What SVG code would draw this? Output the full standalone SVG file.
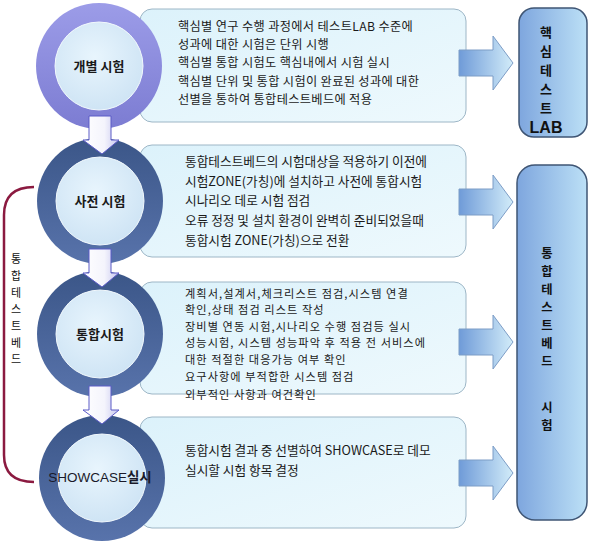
<svg xmlns="http://www.w3.org/2000/svg" width="591" height="543" viewBox="0 0 591 543">
<defs>
<linearGradient id="ring1" x1="0" y1="0" x2="0" y2="1"><stop offset="0" stop-color="#9c9ce8"/><stop offset="1" stop-color="#7c7cd2"/></linearGradient>
<linearGradient id="ring2" x1="0" y1="0" x2="0" y2="1"><stop offset="0" stop-color="#3b5688"/><stop offset="1" stop-color="#5873ab"/></linearGradient>
<radialGradient id="inner" cx="0.45" cy="0.4" r="0.65"><stop offset="0" stop-color="#e8f5fd"/><stop offset="1" stop-color="#cde3f4"/></radialGradient>
<linearGradient id="boxg" x1="0" y1="0" x2="1" y2="1"><stop offset="0" stop-color="#dcf2fb"/><stop offset="1" stop-color="#eef9fd"/></linearGradient>
<linearGradient id="rarrow" x1="0" y1="0" x2="1" y2="0"><stop offset="0" stop-color="#6f9bd8"/><stop offset="1" stop-color="#d2ecf9"/></linearGradient>
<linearGradient id="rbox" x1="0" y1="0" x2="1" y2="0"><stop offset="0" stop-color="#7ea6de"/><stop offset="1" stop-color="#bce0f6"/></linearGradient>
<linearGradient id="darrow" x1="0" y1="0" x2="1" y2="0"><stop offset="0" stop-color="#ffffff"/><stop offset="0.6" stop-color="#f4f4fc"/><stop offset="1" stop-color="#c4c4ee"/></linearGradient>
<path id="rarr" d="M0,-13 L34,-13 L34,-27 L54,0 L34,27 L34,13 L0,13 Z"/>
<path id="darr" d="M-11,0 L11,0 L11,24 L19,24 L2,38 L-17,24 L-11,24 Z"/>
</defs>
<style>
.box{fill:url(#boxg);stroke:#9db6c6;stroke-width:1}
.t{font-family:"Noto Sans CJK KR","Liberation Sans",sans-serif;font-size:12.7px;fill:#1a1a1a}
.t1{font-size:12.2px;letter-spacing:0.35px}
.t3{font-size:11.2px;letter-spacing:1.05px}
.ct{font-family:"Noto Sans CJK KR","Liberation Sans",sans-serif;font-size:13px;font-weight:bold;fill:#1a1a1a;text-anchor:middle}
.inner{fill:url(#inner);stroke:#f2f9fd;stroke-width:1}
.rb{fill:url(#rbox);stroke:#3f5574;stroke-width:1.5}
.rt{font-family:"Noto Sans CJK KR","Liberation Sans",sans-serif;font-size:12.3px;font-weight:bold;fill:#111;text-anchor:middle}
.lt{font-family:"Noto Sans CJK KR","Liberation Sans",sans-serif;font-size:11px;fill:#111;text-anchor:middle}
.ra{fill:url(#rarrow);stroke:#7d9dc6;stroke-width:1}
.da{fill:url(#darrow);stroke:#5a5ac6;stroke-width:1}
</style>
<rect width="591" height="543" fill="#ffffff"/>

<g id="box1"><rect class="box" x="140" y="9" width="326" height="113" rx="12"/>
<text class="t t1"><tspan x="178" y="31">핵심별 연구 수행 과정에서 테스트LAB 수준에</tspan><tspan x="178" y="49">성과에 대한 시험은 단위 시행</tspan><tspan x="178" y="67.3">핵심별 통합 시험도 핵심내에서 시험 실시</tspan><tspan x="178" y="85.6">핵심별 단위 및 통합 시험이 완료된 성과에 대한</tspan><tspan x="178" y="103.9">선별을 통하여 통합테스트베드에 적용</tspan></text></g>

<g id="box2"><rect class="box" x="140" y="145" width="326" height="112" rx="12"/>
<text class="t"><tspan x="185" y="166">통합테스트베드의 시험대상을 적용하기 이전에</tspan><tspan x="185" y="185.5">시험ZONE(가칭)에 설치하고 사전에 통합시험</tspan><tspan x="185" y="205">시나리오 데로 시험 점검</tspan><tspan x="185" y="224.5">오류 정정 및 설치 환경이 완벽히 준비되었을때</tspan><tspan x="185" y="244.5">통합시험 ZONE(가칭)으로 전환</tspan></text></g>

<g id="box3"><rect class="box" x="140" y="282" width="326" height="112" rx="12"/>
<text class="t t3"><tspan x="185" y="297.5">계획서,설계서,체크리스트 점검,시스템 연결</tspan><tspan x="185" y="314">확인,상태 점검 리스트 작성</tspan><tspan x="185" y="330.5">장비별 연동 시험,시나리오 수행 점검등 실시</tspan><tspan x="185" y="347">성능시험, 시스템 성능파악 후 적용 전 서비스에</tspan><tspan x="185" y="363.5">대한 적절한 대응가능 여부 확인</tspan><tspan x="185" y="380.5">요구사항에 부적합한 시스템 점검</tspan><tspan x="185" y="398.5">외부적인 사항과 여건확인</tspan></text></g>

<g id="box4"><rect class="box" x="140" y="417" width="326" height="111" rx="12"/>
<text class="t"><tspan x="185" y="454.5">통합시험 결과 중 선별하여 SHOWCASE로 데모</tspan><tspan x="185" y="474.5">실시할 시험 항목 결정</tspan></text></g>

<g id="node1"><circle cx="99" cy="66" r="63" fill="url(#ring1)"/><circle class="inner" cx="99" cy="66" r="44"/>
<text class="ct" x="99" y="70.5">개별 시험</text></g>
<g id="node2"><circle cx="100" cy="201" r="63" fill="url(#ring2)"/><circle class="inner" cx="100" cy="201" r="44"/>
<text class="ct" x="100" y="206">사전 시험</text></g>
<g id="node3"><circle cx="100" cy="334" r="63" fill="url(#ring2)"/><circle class="inner" cx="100" cy="334" r="44"/>
<text class="ct" x="100" y="338.5">통합시험</text></g>
<g id="node4"><circle cx="102" cy="478" r="63" fill="url(#ring2)"/><circle class="inner" cx="102" cy="478" r="44"/>
<text x="100" y="482" text-anchor="middle" style="font-family:'Liberation Sans','Noto Sans CJK KR',sans-serif;font-size:13.5px;fill:#1a1a2a"><tspan>SHOWCASE</tspan><tspan font-weight="bold" style="font-family:'Noto Sans CJK KR',sans-serif">실시</tspan></text></g>

<g id="lab"><rect class="rb" x="519" y="8" width="68" height="129" rx="15"/>
<text class="rt" style="font-size:13px"><tspan x="546" y="37">핵</tspan><tspan x="546" y="56">심</tspan><tspan x="546" y="75">테</tspan><tspan x="546" y="94">스</tspan><tspan x="546" y="113">트</tspan><tspan x="546" y="133" style="font-family:'Liberation Sans',sans-serif;font-size:16px">LAB</tspan></text></g>

<g id="testbed"><rect class="rb" x="517" y="165" width="70" height="355" rx="18"/>
<text class="rt"><tspan x="547" y="258">통</tspan><tspan x="547" y="276">합</tspan><tspan x="547" y="294">테</tspan><tspan x="547" y="312">스</tspan><tspan x="547" y="330">트</tspan><tspan x="547" y="348">베</tspan><tspan x="547" y="366">드</tspan><tspan x="547" y="412">시</tspan><tspan x="547" y="430">험</tspan></text></g>

<g id="bracket-label">
<text class="lt"><tspan x="16" y="263">통</tspan><tspan x="16" y="280">합</tspan><tspan x="16" y="297">테</tspan><tspan x="16" y="313">스</tspan><tspan x="16" y="330">트</tspan><tspan x="16" y="347">베</tspan><tspan x="16" y="363">드</tspan></text></g>

<g id="connectors">
<use href="#darr" class="da" x="100" y="116"/>
<use href="#darr" class="da" x="100" y="249"/>
<use href="#darr" class="da" x="100" y="386"/>
<use href="#rarr" class="ra" x="459" y="63"/>
<use href="#rarr" class="ra" x="459" y="202"/>
<use href="#rarr" class="ra" x="459" y="342"/>
<use href="#rarr" class="ra" x="459" y="473"/>
<path d="M34,187 Q4,187 4,215 L4,455 Q4,482 34,482" fill="none" stroke="#8b1a40" stroke-width="2.5"/>
</g>
</svg>
